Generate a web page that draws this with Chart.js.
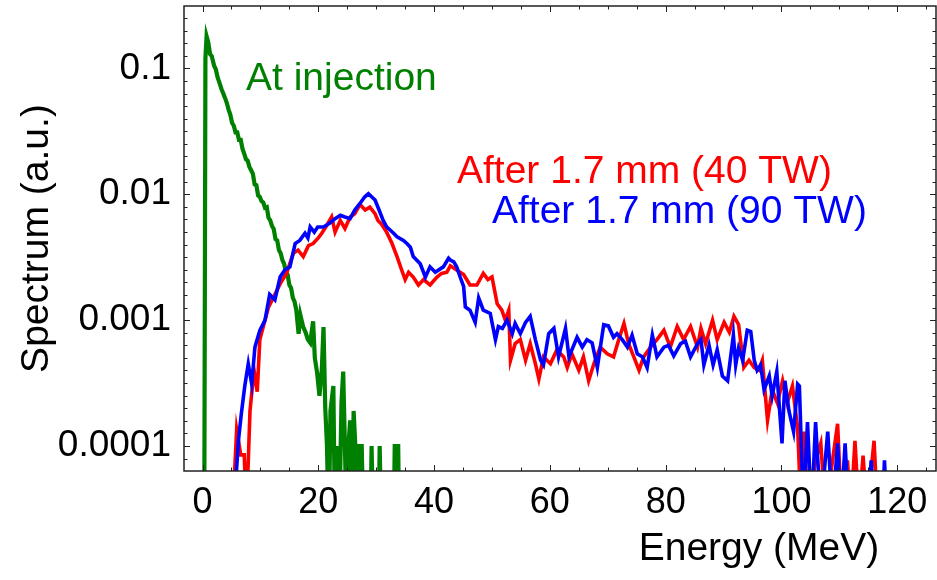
<!DOCTYPE html>
<html>
<head>
<meta charset="utf-8">
<script src="https://cdn.jsdelivr.net/npm/chart.js@4.4.1/dist/chart.umd.min.js"></script>
<style>
html,body{margin:0;padding:0;background:#fff;}
#c{display:block;}
</style>
</head>
<body>
<canvas id="c" width="937" height="580"></canvas>
<script>
// ---- data (Energy in MeV, spectrum in a.u.) ----
const energyTicks = [0, 20, 40, 60, 80, 100, 120];
const spectrumTicks = [0.1, 0.01, 0.001, 0.0001];
const spectrumTickLabels = ['0.1', '0.01', '0.001', '0.0001'];

const seriesNames = ['At injection', 'After 1.7 mm (40 TW)', 'After 1.7 mm (90 TW)'];

const greenE = [0.3,0.5,0.7,1.0,1.3,1.6,2.0,2.3,2.6,3.0,3.3,3.6,3.9,4.2,4.5,4.8,5.1,5.4,5.7,6.0,6.3,6.6,6.9,7.2,7.5,7.8,8.1,8.4,8.7,9.0,9.3,9.6,9.9,10.2,10.5,10.8,11.1,11.4,11.7,12.0,12.3,12.6,12.9,13.2,13.5,13.8,14.1,14.4,14.7,15.0,15.3,15.6,15.9,16.2,16.6,16.9,17.4,17.8,18.2,18.6,19.1,19.4,19.8,20.2,20.6,20.9,21.2,21.5,21.8,22.1,22.6,22.9,23.3,23.6,24.0,24.3,24.6,24.9,25.2,25.5,25.8,26.1,26.4,26.7,27.0,27.5,27.8,29.0,29.2,29.5,30.4,30.6,30.9,33.0,33.2,33.8,34.0];
const greenV = [2e-5,0.12,0.18,0.16,0.13,0.125,0.105,0.098,0.085,0.075,0.068,0.063,0.058,0.053,0.047,0.043,0.037,0.035,0.031,0.031,0.027,0.027,0.023,0.021,0.019,0.0185,0.0165,0.0155,0.0145,0.012,0.0118,0.0098,0.0095,0.0088,0.0086,0.0078,0.0079,0.0065,0.0062,0.0056,0.0053,0.0044,0.0043,0.0036,0.0034,0.003,0.0028,0.0024,0.0023,0.0019,0.0018,0.0015,0.0014,0.0012,0.00078,0.0011,0.00088,0.0008,0.0007,0.00066,0.00098,0.0005,0.00038,0.00025,0.0004,0.00088,0.0002,0.0001,2e-5,0.00019,0.0003,2e-5,0.0001,2e-5,0.00022,0.00039,0.0001,2e-5,0.0001,0.00016,2e-5,0.00019,0.0001,2e-5,0.0001,0.0001,2e-5,2e-5,0.0001,2e-5,2e-5,0.0001,2e-5,2e-5,0.0001,0.0001,2e-5];

const redE = [5.2,5.9,6.6,7.2,7.6,8.2,8.9,9.45,9.9,10.5,11.4,12.2,13.4,14.5,15.7,16.5,17.4,18.3,19.1,20.0,20.6,21.5,22.3,22.9,23.8,24.6,25.5,26.3,27.2,28.1,28.9,29.8,30.3,30.9,31.8,32.7,33.6,34.4,35.0,35.6,36.4,37.3,38.2,39.3,40.5,41.3,42.2,42.8,43.9,45.1,46.2,47.4,48.5,49.3,50.0,50.9,51.7,52.3,52.9,53.2,54.0,54.9,55.8,56.6,57.5,58.1,58.9,60.1,61.2,62.4,63.0,63.8,65.0,65.8,66.7,67.6,68.7,69.9,71.0,71.9,72.8,73.6,74.5,75.4,76.2,77.4,78.5,79.7,80.8,82.0,83.1,84.3,85.5,86.1,86.9,88.1,88.9,90.1,91.0,91.8,92.6,93.5,94.4,95.3,96.1,96.7,97.6,98.4,99.3,100.2,101.0,101.9,102.8,103.4,103.9,104.6,105.9,106.8,107.6,109.7,110.4,111.4,112.0,112.7,113.4,114.1,114.8,116.0,116.6];
const redV = [3e-5,1.35e-4,8.5e-5,8.5e-5,3e-5,1.9e-4,4e-4,2.7e-4,7e-4,8.9e-4,1.27e-3,1.5e-3,1.94e-3,2.35e-3,3.4e-3,3.6e-3,3.2e-3,3.9e-3,4.06e-3,4.5e-3,4.9e-3,5.7e-3,6.6e-3,5.0e-3,6.2e-3,5.35e-3,6.6e-3,7.0e-3,8.3e-3,7.5e-3,7.9e-3,7.0e-3,6.2e-3,5.8e-3,5.0e-3,4.1e-3,3.2e-3,2.5e-3,2.1e-3,2.4e-3,2.2e-3,1.9e-3,2.1e-3,1.9e-3,2.2e-3,2.35e-3,2.4e-3,2.7e-3,2.5e-3,2.3e-3,1.9e-3,1.9e-3,2.35e-3,2.1e-3,2.2e-3,1.35e-3,1.2e-3,1.0e-3,1.2e-3,4.8e-4,6.5e-4,7e-4,4.8e-4,6.5e-4,4.5e-4,3.4e-4,5.1e-4,4.5e-4,5.8e-4,5.1e-4,4.2e-4,5.4e-4,4.0e-4,5.1e-4,3.3e-4,4.5e-4,6.1e-4,5.4e-4,5.1e-4,7e-4,9.4e-4,6.5e-4,5.1e-4,4.0e-4,5.1e-4,6.1e-4,7e-4,8.3e-4,6.1e-4,8.9e-4,7e-4,8.9e-4,6.1e-4,8.6e-4,6.5e-4,1e-3,7e-4,9.6e-4,8e-4,1.07e-3,9.2e-4,4.2e-4,4.8e-4,4.2e-4,4e-4,4.8e-4,1.6e-4,2.8e-4,2.2e-4,3.3e-4,2.2e-4,3e-4,1.4e-4,3e-5,1.3e-4,3e-5,7.7e-5,1.05e-4,3e-5,1.5e-4,3e-5,7.7e-5,3e-5,1.1e-4,3e-5,8.4e-5,3e-5,1.1e-4,3e-5];

const blueE = [5.4,6.2,6.7,7.3,7.9,8.5,9.05,9.9,10.8,11.6,12.5,13.4,14.2,15.1,16.0,16.8,17.7,18.2,18.6,19.3,19.9,20.9,22.0,22.9,23.8,24.6,25.5,26.3,27.2,28.0,28.65,29.8,30.5,31.2,31.8,32.4,33.0,33.6,34.7,35.3,35.9,36.4,37.6,38.5,39.3,40.2,41.6,42.5,42.8,43.4,43.9,44.5,45.1,45.4,46.2,47.1,47.7,48.5,49.7,50.6,51.1,51.8,52.6,53.5,54.0,54.9,55.8,56.6,57.5,58.4,58.9,59.8,60.7,61.5,62.7,63.3,64.7,65.6,66.4,67.3,68.2,69.3,70.1,71.0,71.6,72.5,73.4,74.2,75.1,76.0,76.8,77.7,78.5,79.7,80.5,81.4,82.6,83.4,84.3,85.5,86.1,86.6,87.5,88.2,88.9,89.8,90.7,91.7,92.1,92.6,93.3,94.1,94.7,95.3,95.8,96.4,97.0,97.9,98.4,99.2,100.1,100.6,101.3,102.1,102.8,103.1,103.8,104.5,105.2,105.9,106.8,108.0,108.8,109.7,110.3,111.0,111.6,115.0,115.5,116.0,117.4,117.8,118.2];
const blueV = [3e-5,1.1e-4,1.8e-4,3e-4,4.5e-4,3.1e-4,6.1e-4,8.3e-4,1e-3,1.6e-3,1.45e-3,2.2e-3,2.5e-3,2.65e-3,4.06e-3,4.3e-3,4.9e-3,4.5e-3,5.5e-3,5.0e-3,5.5e-3,5.5e-3,5.9e-3,6.4e-3,6.8e-3,6.6e-3,6.4e-3,7.5e-3,8.45e-3,9.5e-3,1.01e-2,9.0e-3,7.5e-3,6.2e-3,5.5e-3,5.2e-3,4.9e-3,4.6e-3,4.3e-3,4.06e-3,3.8e-3,3.2e-3,2.8e-3,2.2e-3,2.65e-3,2.4e-3,2.65e-3,3.1e-3,3.0e-3,2.9e-3,2.65e-3,2.2e-3,1.85e-3,1.27e-3,1.2e-3,9.6e-4,1.5e-3,1.2e-3,1.13e-3,7e-4,8.9e-4,8.6e-4,1e-3,7.8e-4,9.4e-4,7.8e-4,9.6e-4,1.07e-3,7e-4,4.8e-4,4.4e-4,7.8e-4,8.6e-4,5.1e-4,8.6e-4,5.1e-4,7.3e-4,6.1e-4,7e-4,6.6e-4,4.2e-4,9.2e-4,9e-4,7.3e-4,7.8e-4,7e-4,6.1e-4,7.6e-4,5.4e-4,5.1e-4,4.2e-4,7.6e-4,5.1e-4,6.1e-4,6.3e-4,5.2e-4,6.5e-4,6.8e-4,5.1e-4,6.5e-4,7e-4,4.4e-4,6.3e-4,4.4e-4,5.8e-4,3.6e-4,3.3e-4,7.6e-4,4.4e-4,6e-4,4.8e-4,8.3e-4,8.1e-4,4.8e-4,4e-4,4.4e-4,2.8e-4,3.6e-4,2.5e-4,3.9e-4,1.05e-4,3.3e-4,1.9e-4,1.3e-4,3.1e-4,3e-4,3e-5,1.55e-4,3e-5,1.55e-4,3e-5,1.3e-4,3e-5,1.05e-4,3e-5,1.05e-4,3e-5,3e-5,7.7e-5,3e-5,3e-5,7.7e-5,3e-5];

const xRange = [-3.2, 126.7];
const yRange = [6.33e-5, 0.313];

// ---- chart ----
const FONT = "'Liberation Sans', Arial, Helvetica, sans-serif";
const toPts = (xs, ys) => xs.map((x, i) => ({ x: x, y: ys[i] }));

const framePlugin = {
  id: 'frame',
  afterDraw(chart) {
    const ctx = chart.ctx;
    const { left, right, top, bottom } = chart.chartArea;
    const xs = chart.scales.x, ys = chart.scales.y;
    ctx.save();
    ctx.strokeStyle = '#222';
    ctx.lineWidth = 1.5;
    ctx.strokeRect(left, top, right - left, bottom - top);
    ctx.lineWidth = 1;
    ctx.beginPath();
    for (let v = 0; v <= xs.max; v += 5) {
      const px = Math.round(xs.getPixelForValue(v)) + 0.5;
      const len = (v % 20 === 0) ? 6 : 3.5;
      ctx.moveTo(px, bottom); ctx.lineTo(px, bottom - len);
      ctx.moveTo(px, top); ctx.lineTo(px, top + len);
    }
    const k0 = Math.ceil(Math.log10(ys.min) * 10), k1 = Math.floor(Math.log10(ys.max) * 10);
    for (let k = k0; k <= k1; k++) {
      const py = Math.round(ys.getPixelForValue(Math.pow(10, k / 10))) + 0.5;
      const len = (k % 10 === 0) ? 6 : 3.5;
      ctx.moveTo(left, py); ctx.lineTo(left + len, py);
      ctx.moveTo(right, py); ctx.lineTo(right - len, py);
    }
    ctx.stroke();

    // x axis title and curve labels
    ctx.textBaseline = 'alphabetic';
    ctx.font = '39px ' + FONT;
    ctx.fillStyle = '#000';
    ctx.textAlign = 'center';
    ctx.fillText('Energy (MeV)', 759, 560);
    ctx.textAlign = 'left';
    ctx.fillStyle = '#008000';
    ctx.fillText(seriesNames[0], 246, 90);
    ctx.fillStyle = '#ff0000';
    ctx.fillText(seriesNames[1], 457, 183);
    ctx.fillStyle = '#0000ff';
    ctx.fillText(seriesNames[2], 492, 223);
    ctx.restore();
  }
};

new Chart(document.getElementById('c'), {
  type: 'line',
  data: {
    datasets: [
      { label: seriesNames[2], data: toPts(blueE, blueV), borderColor: '#0000ff', borderWidth: 3.6, pointRadius: 0, tension: 0, clip: 0 },
      { label: seriesNames[1], data: toPts(redE, redV), borderColor: '#ff0000', borderWidth: 3.6, pointRadius: 0, tension: 0, clip: 0 },
      { label: seriesNames[0], data: toPts(greenE, greenV), borderColor: '#008000', borderWidth: 4.2, pointRadius: 0, tension: 0, clip: 0 }
    ]
  },
  options: {
    responsive: false,
    animation: false,
    layout: { padding: { top: 6, right: 1, left: 0, bottom: 0 } },
    plugins: { legend: { display: false }, tooltip: { enabled: false } },
    scales: {
      x: {
        type: 'linear',
        min: xRange[0], max: xRange[1],
        grid: { display: false, drawTicks: false },
        border: { display: false },
        afterBuildTicks: (s) => { s.ticks = energyTicks.map(v => ({ value: v })); },
        afterFit: (s) => { s.height = 109; s.paddingLeft = 0; s.paddingRight = 0; },
        ticks: {
          autoSkip: false, maxRotation: 0, padding: 10,
          color: '#000', font: { family: FONT, size: 36 },
          callback: (v) => String(v)
        }
      },
      y: {
        type: 'logarithmic',
        min: yRange[0], max: yRange[1],
        grid: { display: false, drawTicks: false },
        border: { display: false },
        afterBuildTicks: (s) => { s.ticks = spectrumTicks.map(v => ({ value: v })); },
        afterFit: (s) => { s.width = 184; s.paddingTop = 0; s.paddingBottom = 0; },
        ticks: {
          autoSkip: false, padding: 13,
          color: '#000', font: { family: FONT, size: 37 },
          callback: (v, i) => spectrumTickLabels[i]
        },
        title: {
          display: true, text: 'Spectrum (a.u.)', color: '#000',
          font: { family: FONT, size: 39 }, padding: { top: 14, bottom: 0 }
        }
      }
    }
  },
  plugins: [framePlugin]
});
</script>
</body>
</html>
